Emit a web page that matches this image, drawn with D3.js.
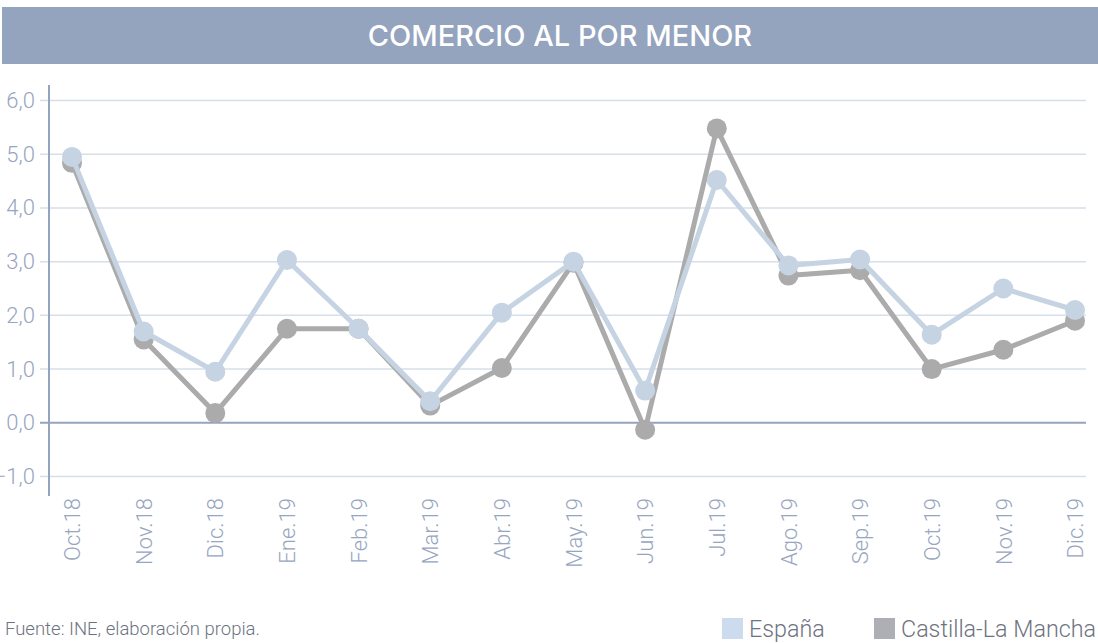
<!DOCTYPE html>
<html><head><meta charset="utf-8">
<script src="https://cdn.jsdelivr.net/npm/d3@7"></script>
<style>body{margin:0;background:#fff}svg{display:block}</style>
</head><body>
<script>
const categories = ["Oct.18","Nov.18","Dic.18","Ene.19","Feb.19","Mar.19","Abr.19","May.19","Jun.19","Jul.19","Ago.19","Sep.19","Oct.19","Nov.19","Dic.19"];
const espana = [4.95,1.7,0.95,3.03,1.75,0.4,2.05,3.0,0.6,4.52,2.93,3.04,1.64,2.5,2.1];
const clm = [4.84,1.55,0.18,1.75,1.75,0.32,1.02,2.98,-0.13,5.48,2.74,2.84,1.0,1.36,1.9];
const yTicks = [-1,0,1,2,3,4,5,6];
const title = "COMERCIO AL POR MENOR";
const source = "Fuente: INE, elaboración propia.";
const seriesNames = ["España","Castilla-La Mancha"];

const W = 1098, H = 643;
const svg = d3.select("body").append("svg").attr("width", W).attr("height", H);

svg.append("rect").attr("x",2).attr("y",7).attr("width",1096).attr("height",57).attr("fill","#94A3BE");
svg.append("text").attr("x",560).attr("y",46).attr("text-anchor","middle")
  .attr("font-family","Inter, 'Open Sans', sans-serif").attr("font-size",29).attr("font-weight",500)
  .attr("fill","#fff").text(title);

const x = d3.scalePoint().domain(categories).range([72,1075]);
const y = d3.scaleLinear().domain([-1,6]).range([476.5,100.5]);

const grid = svg.append("g");
grid.selectAll("line").data(yTicks).join("line")
  .attr("x1",40).attr("x2",1086).attr("y1",d=>y(d)).attr("y2",d=>y(d))
  .attr("stroke", d=>d===0?"#94A3BE":"#D6DFEA").attr("stroke-width", d=>d===0?2:1.5);

const yAxis = svg.append("g").attr("transform","translate(49,0)")
  .call(d3.axisLeft(y).tickValues(yTicks).tickSize(0).tickPadding(14).tickFormat(d=>d3.format(".1f")(d).replace(".",",")));
yAxis.select(".domain").remove();
yAxis.selectAll("text").attr("font-family","Roboto, sans-serif").attr("font-weight",300).attr("font-size",22).attr("fill","#97A5C0");
svg.append("line").attr("x1",49).attr("x2",49).attr("y1",85).attr("y2",496).attr("stroke","#94A3BE").attr("stroke-width",2);

const xAxis = svg.append("g").attr("transform","translate(0,496)")
  .call(d3.axisBottom(x).tickSize(0).tickPadding(0));
xAxis.select(".domain").remove();
xAxis.selectAll("text").attr("font-family","Roboto, sans-serif").attr("font-weight",300).attr("font-size",22).attr("fill","#97A5C0")
  .attr("text-anchor","end").attr("dy","0.35em").attr("transform","rotate(-90)").attr("x",-2).attr("y",0);

const line = d3.line().x((d,i)=>x(categories[i])).y(d=>y(d));
const series = [{vals:clm,color:"#ABABAB"},{vals:espana,color:"#C5D3E3"}];
series.forEach(s=>{
  const g = svg.append("g");
  g.append("path").datum(s.vals).attr("d",line).attr("fill","none").attr("stroke",s.color).attr("stroke-width",5).attr("stroke-linejoin","round");
  g.selectAll("circle").data(s.vals).join("circle").attr("cx",(d,i)=>x(categories[i])).attr("cy",d=>y(d)).attr("r",10).attr("fill",s.color);
});

svg.append("text").attr("x",5).attr("y",635).attr("font-family","Roboto, sans-serif").attr("font-weight",300)
  .attr("font-size",18.5).attr("fill","#6E7380").text(source);

const legend = [{name:seriesNames[0],color:"#CCDCEE",x:722},{name:seriesNames[1],color:"#ADAFB5",x:874}];
legend.forEach(l=>{
  svg.append("rect").attr("x",l.x).attr("y",618).attr("width",21).attr("height",21).attr("fill",l.color);
  svg.append("text").attr("x",l.x+27).attr("y",636.5).attr("font-family","Roboto, sans-serif").attr("font-weight",300)
    .attr("font-size",23.3).attr("fill","#6E7380").text(l.name);
});
</script>
</body></html>
